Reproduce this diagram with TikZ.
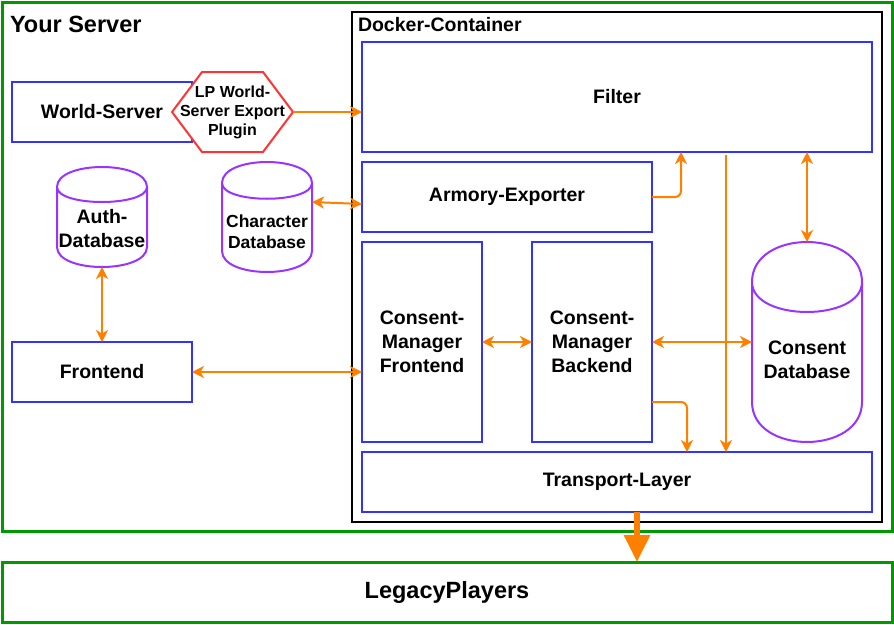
\documentclass[tikz,border=0pt]{standalone}
\usepackage{fontspec}
\setmainfont{Liberation Sans}
\usetikzlibrary{arrows.meta,calc}
\definecolor{bl}{RGB}{51,51,255}
\definecolor{pu}{RGB}{153,51,255}
\definecolor{rd}{RGB}{255,51,51}
\definecolor{org}{RGB}{255,128,0}
\definecolor{gr}{RGB}{0,153,0}
\newcommand\fmain{\fontsize{19.5}{24}\selectfont\bfseries}
\newcommand\fhexa{\fontsize{16}{19}\selectfont\bfseries}
\newcommand\fcyl{\fontsize{17.5}{21}\selectfont\bfseries}
\newcommand\fbig{\fontsize{23.5}{28}\selectfont\bfseries}
\newcommand\cylpath[2]{%
  \draw[dbline] let \p1=(#1.north west), \p2=(#1.south east) in
    ({\x1},{\y1-#2pt}) .. controls ({\x1},{\y1+#2pt/3}) and ({\x2},{\y1+#2pt/3}) .. ({\x2},{\y1-#2pt})
    -- ({\x2},{\y2+#2pt}) .. controls ({\x2},{\y2-#2pt/3}) and ({\x1},{\y2-#2pt/3}) .. ({\x1},{\y2+#2pt}) -- cycle
    ({\x1},{\y1-#2pt}) .. controls ({\x1},{\y1-2*#2pt}) and ({\x2},{\y1-2*#2pt}) .. ({\x2},{\y1-#2pt});}
\begin{document}
\begin{tikzpicture}[x=1pt,y=-1pt,
  box/.style={draw=bl, line width=2pt, fill=white, inner sep=0pt, outer sep=0pt, align=center, font=\fmain},
  ghost/.style={inner sep=0pt, outer sep=0pt},
  gbox/.style={draw=gr, line width=3pt, inner sep=0pt, outer sep=0pt, align=center},
  dbline/.style={draw=pu, line width=2pt, fill=white},
  arr/.style={draw=org, line width=2pt, -{Stealth[length=12pt,width=12pt,inset=3.5pt]}},
  darr/.style={draw=org, line width=2pt, {Stealth[length=12pt,width=12pt,inset=3.5pt]}-{Stealth[length=12pt,width=12pt,inset=3.5pt]}},
  bigarr/.style={draw=org, line width=6pt, -{Triangle[length=27pt,width=25pt]}}]
\useasboundingbox (0,0) rectangle (894,624);
\fill[white] (0,0) rectangle (894,624);

% containers
\node[gbox, minimum width=890pt, minimum height=529pt] (server) at (447,266.5) {};
\node[ghost, anchor=west, font=\fbig] (servertitle) at (10,24) {Your Server};
\node[gbox, minimum width=890pt, minimum height=60pt, font=\fbig] (legacy) at (447,592) {LegacyPlayers};
\node[draw=black, line width=2pt, inner sep=0pt, outer sep=0pt, minimum width=530pt, minimum height=510pt] (docker) at (617,267) {};
\node[ghost, anchor=west, font=\fmain] (dockertitle) at (358,25) {Docker-Container};

% docker contents
\node[box, minimum width=510pt, minimum height=110pt] (filter) at (617,97) {\raisebox{2pt}{Filter}};
\node[box, minimum width=290pt, minimum height=70pt] (armory) at (507,197) {Armory-Exporter};
\node[box, minimum width=120pt, minimum height=200pt] (cmfront) at (422,342) {Consent-\\Manager\\Frontend};
\node[box, minimum width=120pt, minimum height=200pt] (cmback) at (592,342) {Consent-\\Manager\\Backend};
\node[box, minimum width=510pt, minimum height=60pt] (transport) at (617,482) {Transport-Layer};
\node[ghost, minimum width=110pt, minimum height=200pt] (consentdb) at (807,342) {};
\cylpath{consentdb}{40}
\node[ghost, align=center, font=\fmain] (consentdbtext) at (807,360) {Consent\\Database};

% left side
\node[box, minimum width=180pt, minimum height=60pt] (world) at (102,112) {\raisebox{1.5pt}{World-Server}};
\node[ghost, minimum width=121pt, minimum height=80pt] (hex) at (232.5,112) {};
\draw[draw=rd, line width=2pt, fill=white] (hex.west) -- ([xshift=30pt]hex.north west) -- ([xshift=-30pt]hex.north east) -- (hex.east) -- ([xshift=-30pt]hex.south east) -- ([xshift=30pt]hex.south west) -- cycle;
\node[ghost, align=center, font=\fhexa] (hextext) at (hex.center) {LP World-\\Server Export\\Plugin};
\node[ghost, minimum width=90pt, minimum height=100pt] (authdb) at (102,217) {};
\cylpath{authdb}{20}
\node[ghost, align=center, font=\fmain] (authdbtext) at (102,229) {Auth-\\Database};
\node[ghost, minimum width=90pt, minimum height=110pt] (chardb) at (267,217) {};
\cylpath{chardb}{21}
\node[ghost, align=center, font=\fcyl] (chardbtext) at (267,232) {Character\\Database};
\node[box, minimum width=180pt, minimum height=60pt] (frontend) at (102,372) {Frontend};

% connectors
\draw[arr] (hex.east) -- (hex.east -| filter.west);
\draw[arr, rounded corners=6pt] (armory.east) -| ([xshift=29pt]armory.east |- filter.south);
\draw[arr] ([xshift=109pt,yshift=-3pt]filter.south) -- ([xshift=109pt]filter.south |- transport.north);
\draw[darr] (consentdb.north |- filter.south) -- (consentdb.north);
\draw[darr] ([yshift=15pt]chardb.east) -- ([yshift=-7pt]armory.west);
\draw[darr] (authdb.south) -- (frontend.north);
\draw[darr] (frontend.east) -- (frontend.east -| cmfront.west);
\draw[darr] (cmfront.east) -- (cmback.west);
\draw[darr] (cmback.east) -- (consentdb.west);
\draw[arr, rounded corners=6pt] ([yshift=-60pt]cmback.east) -| ([xshift=35pt]cmback.east |- transport.north);
\draw[bigarr] ([xshift=20pt]transport.south) -- ([xshift=20pt]transport.south |- legacy.north);
\end{tikzpicture}
\end{document}
